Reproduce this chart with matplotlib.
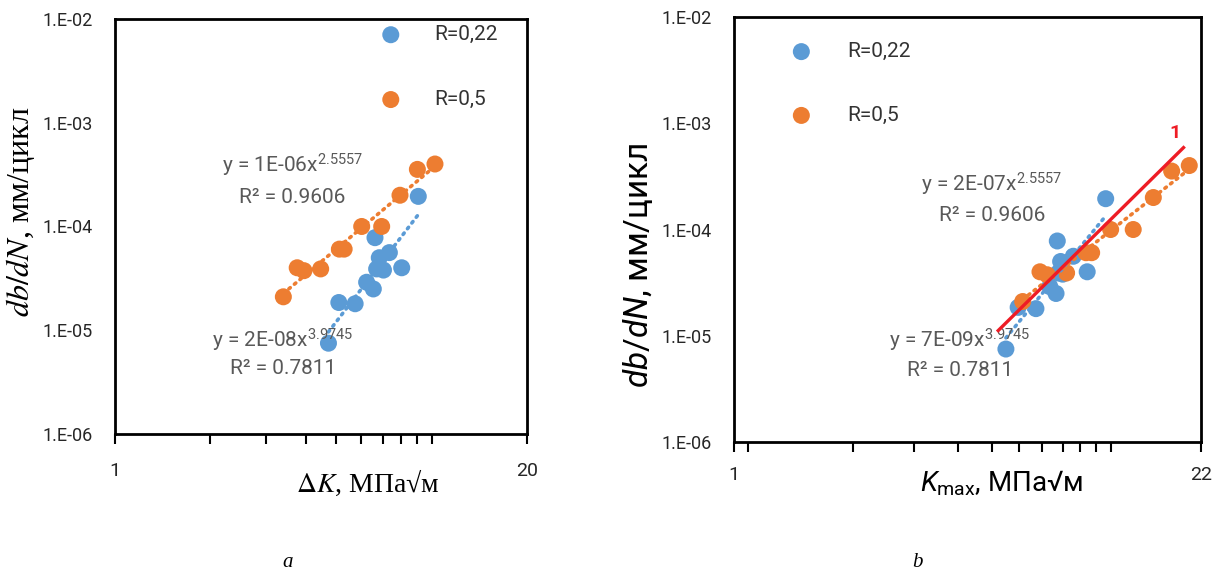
import matplotlib

matplotlib.use("Agg")
import matplotlib.pyplot as plt
import numpy as np
from matplotlib.ticker import FixedFormatter, FixedLocator, NullFormatter, NullLocator

plt.rcParams["font.family"] = ["Roboto", "DejaVu Sans"]
plt.rcParams["mathtext.fontset"] = "custom"
plt.rcParams["mathtext.rm"] = "Roboto"
plt.rcParams["mathtext.it"] = "Roboto:italic"
plt.rcParams["mathtext.bf"] = "Roboto:bold"

BLUE = "#5B9BD5"
ORANGE = "#ED7D31"
GREY = "#595959"
TICK_COLOR = "#262626"
SERIF = ["Liberation Serif", "DejaVu Serif"]

# crack growth rate db/dN, mm/cycle (same measurements in both panels)
rate_r022 = [7.5e-6, 1.85e-5, 1.8e-5, 2.9e-5, 2.5e-5, 7.8e-5, 5.0e-5, 3.9e-5, 3.8e-5, 5.6e-5, 4.0e-5, 1.95e-4]
rate_r05 = [2.1e-5, 4.0e-5, 3.75e-5, 3.9e-5, 6.05e-5, 6.05e-5, 1.0e-4, 1.0e-4, 2.0e-4, 3.55e-4, 4.0e-4]

# panel a: stress intensity range dK
dk_r022 = [4.72, 5.09, 5.73, 6.23, 6.54, 6.62, 6.83, 6.70, 7.04, 7.35, 8.04, 9.07]
dk_r05 = [3.40, 3.76, 3.95, 4.46, 5.11, 5.29, 6.01, 6.95, 7.94, 9.01, 10.24]

# panel b: maximum stress intensity Kmax
km_r022 = [6.05, 6.56, 7.38, 8.09, 8.43, 8.50, 8.69, 8.55, 8.81, 9.45, 10.36, 11.71]
km_r05 = [6.76, 7.58, 7.95, 9.04, 10.28, 10.67, 12.10, 14.05, 16.05, 18.12, 20.36]

# hand drawn line "1" on panel b
line1_k = [5.75, 19.6]
line1_rate = [1.12e-5, 5.9e-4]

series_labels = ["R=0,22", "R=0,5"]
eq_a = ["y = 1E-06x$^{2.5557}$", "R² = 0.9606", "y = 2E-08x$^{3.9745}$", "R² = 0.7811"]
eq_b = ["y = 2E-07x$^{2.5557}$", "R² = 0.9606", "y = 7E-09x$^{3.9745}$", "R² = 0.7811"]

y_ticks = [1e-6, 1e-5, 1e-4, 1e-3, 1e-2]
y_tick_labels = ["1.E-06", "1.E-05", "1.E-04", "1.E-03", "1.E-02"]


def power_trend(ax, x, y, color):
    # Excel-style power trendline: straight fit in log-log space
    k, b = np.polyfit(np.log10(x), np.log10(y), 1)
    xs = np.array([min(x), max(x)])
    ax.plot(xs, 10**b * xs**k, color=color, lw=2.6, linestyle=(0, (0.5, 1.5)),
            dash_capstyle="round", zorder=3)


def setup_axes(ax, xmax, minor_ticks, major_labels, xpad):
    ax.set_xscale("log")
    ax.set_yscale("log")
    ax.set_xlim(1, xmax)
    ax.set_ylim(1e-6, 1e-2)
    ax.xaxis.set_major_locator(FixedLocator([1, xmax]))
    ax.xaxis.set_major_formatter(FixedFormatter(major_labels))
    ax.xaxis.set_minor_locator(FixedLocator(minor_ticks))
    ax.xaxis.set_minor_formatter(NullFormatter())
    ax.yaxis.set_major_locator(FixedLocator(y_ticks))
    ax.yaxis.set_major_formatter(FixedFormatter(y_tick_labels))
    ax.yaxis.set_minor_locator(NullLocator())
    ax.tick_params(axis="x", which="both", direction="out", length=7, width=1.5,
                   pad=xpad, labelsize=14, labelcolor=TICK_COLOR)
    ax.tick_params(axis="y", which="both", length=0, pad=16, labelsize=13,
                   labelcolor=TICK_COLOR)
    for sp in ax.spines.values():
        sp.set_linewidth(2.0)
        sp.set_color("black")


def draw_panel(ax, x022, x05):
    s1 = ax.scatter(x022, rate_r022, s=150, color=BLUE, edgecolors="none", zorder=2)
    s2 = ax.scatter(x05, rate_r05, s=150, color=ORANGE, edgecolors="none", zorder=2)
    power_trend(ax, x022, rate_r022, BLUE)
    power_trend(ax, x05, rate_r05, ORANGE)
    return s1, s2


fig = plt.figure(figsize=(12.2, 5.73), dpi=100)
ax_a = fig.add_axes([0.0943, 0.2426, 0.3377, 0.7243])
ax_b = fig.add_axes([0.6016, 0.2286, 0.3828, 0.7417])

# panel a
h1, h2 = draw_panel(ax_a, dk_r022, dk_r05)
setup_axes(ax_a, 20, list(range(2, 11)), ["1", "20"], 13)
ax_a.legend([h1, h2], series_labels, loc="upper left", bbox_to_anchor=(0.644, 0.985),
            frameon=False, fontsize=15, handlelength=1.0, handletextpad=1.6,
            labelspacing=2.2, borderpad=0, borderaxespad=0, scatterpoints=1,
            labelcolor="#333333")
for (fx, fy), txt in zip([(0.431, 0.648), (0.431, 0.569), (0.408, 0.2265), (0.407, 0.159)], eq_a):
    ax_a.text(fx, fy, txt, transform=ax_a.transAxes, ha="center", va="center",
              fontsize=15, color=GREY)
ax_a.set_xlabel(r"$\Delta K$, МПа√м", fontsize=20, family=SERIF, math_fontfamily="stix",
                va="center")
ax_a.xaxis.set_label_coords(0.614, -0.118)
ax_a.set_ylabel(r"$db/dN$, мм/цикл", fontsize=23, family=SERIF, math_fontfamily="stix",
                va="center")
ax_a.yaxis.set_label_coords(-0.2306, 0.535)

# panel b
h1, h2 = draw_panel(ax_b, km_r022, km_r05)
ax_b.plot(line1_k, line1_rate, color="#EE1C25", lw=2.4, zorder=4)
ax_b.text(0.944, 0.727, "1", transform=ax_b.transAxes, ha="center", va="center",
          fontsize=14, fontweight="bold", color="#EE1C25")
setup_axes(ax_b, 22, [1.1, 2.2, 3.3, 4.4, 5.5, 6.6, 7.7, 8.8, 9.9, 11.0, 12.1],
           ["1", "22"], 10)
ax_b.legend([h1, h2], series_labels, loc="upper left", bbox_to_anchor=(0.122, 0.941),
            frameon=False, fontsize=15, handlelength=1.0, handletextpad=1.7,
            labelspacing=2.15, borderpad=0, borderaxespad=0, scatterpoints=1,
            labelcolor="#333333")
for (fx, fy), txt in zip([(0.5525, 0.605), (0.5525, 0.534), (0.484, 0.240), (0.484, 0.169)], eq_b):
    ax_b.text(fx, fy, txt, transform=ax_b.transAxes, ha="center", va="center",
              fontsize=15, color=GREY)
ax_b.set_xlabel(r"$K_{\mathrm{max}}$, МПа√м", fontsize=20, va="center")
ax_b.xaxis.set_label_coords(0.574, -0.0965)
ax_b.set_ylabel(r"$db/dN$, мм/цикл", fontsize=24, va="center")
ax_b.yaxis.set_label_coords(-0.2056, 0.4165)

fig.text(0.236, 0.0175, "a", family=SERIF, style="italic", fontsize=15,
         ha="center", va="center")
fig.text(0.752, 0.0175, "b", family=SERIF, style="italic", fontsize=15,
         ha="center", va="center")

fig.savefig("out.png", dpi=100)
